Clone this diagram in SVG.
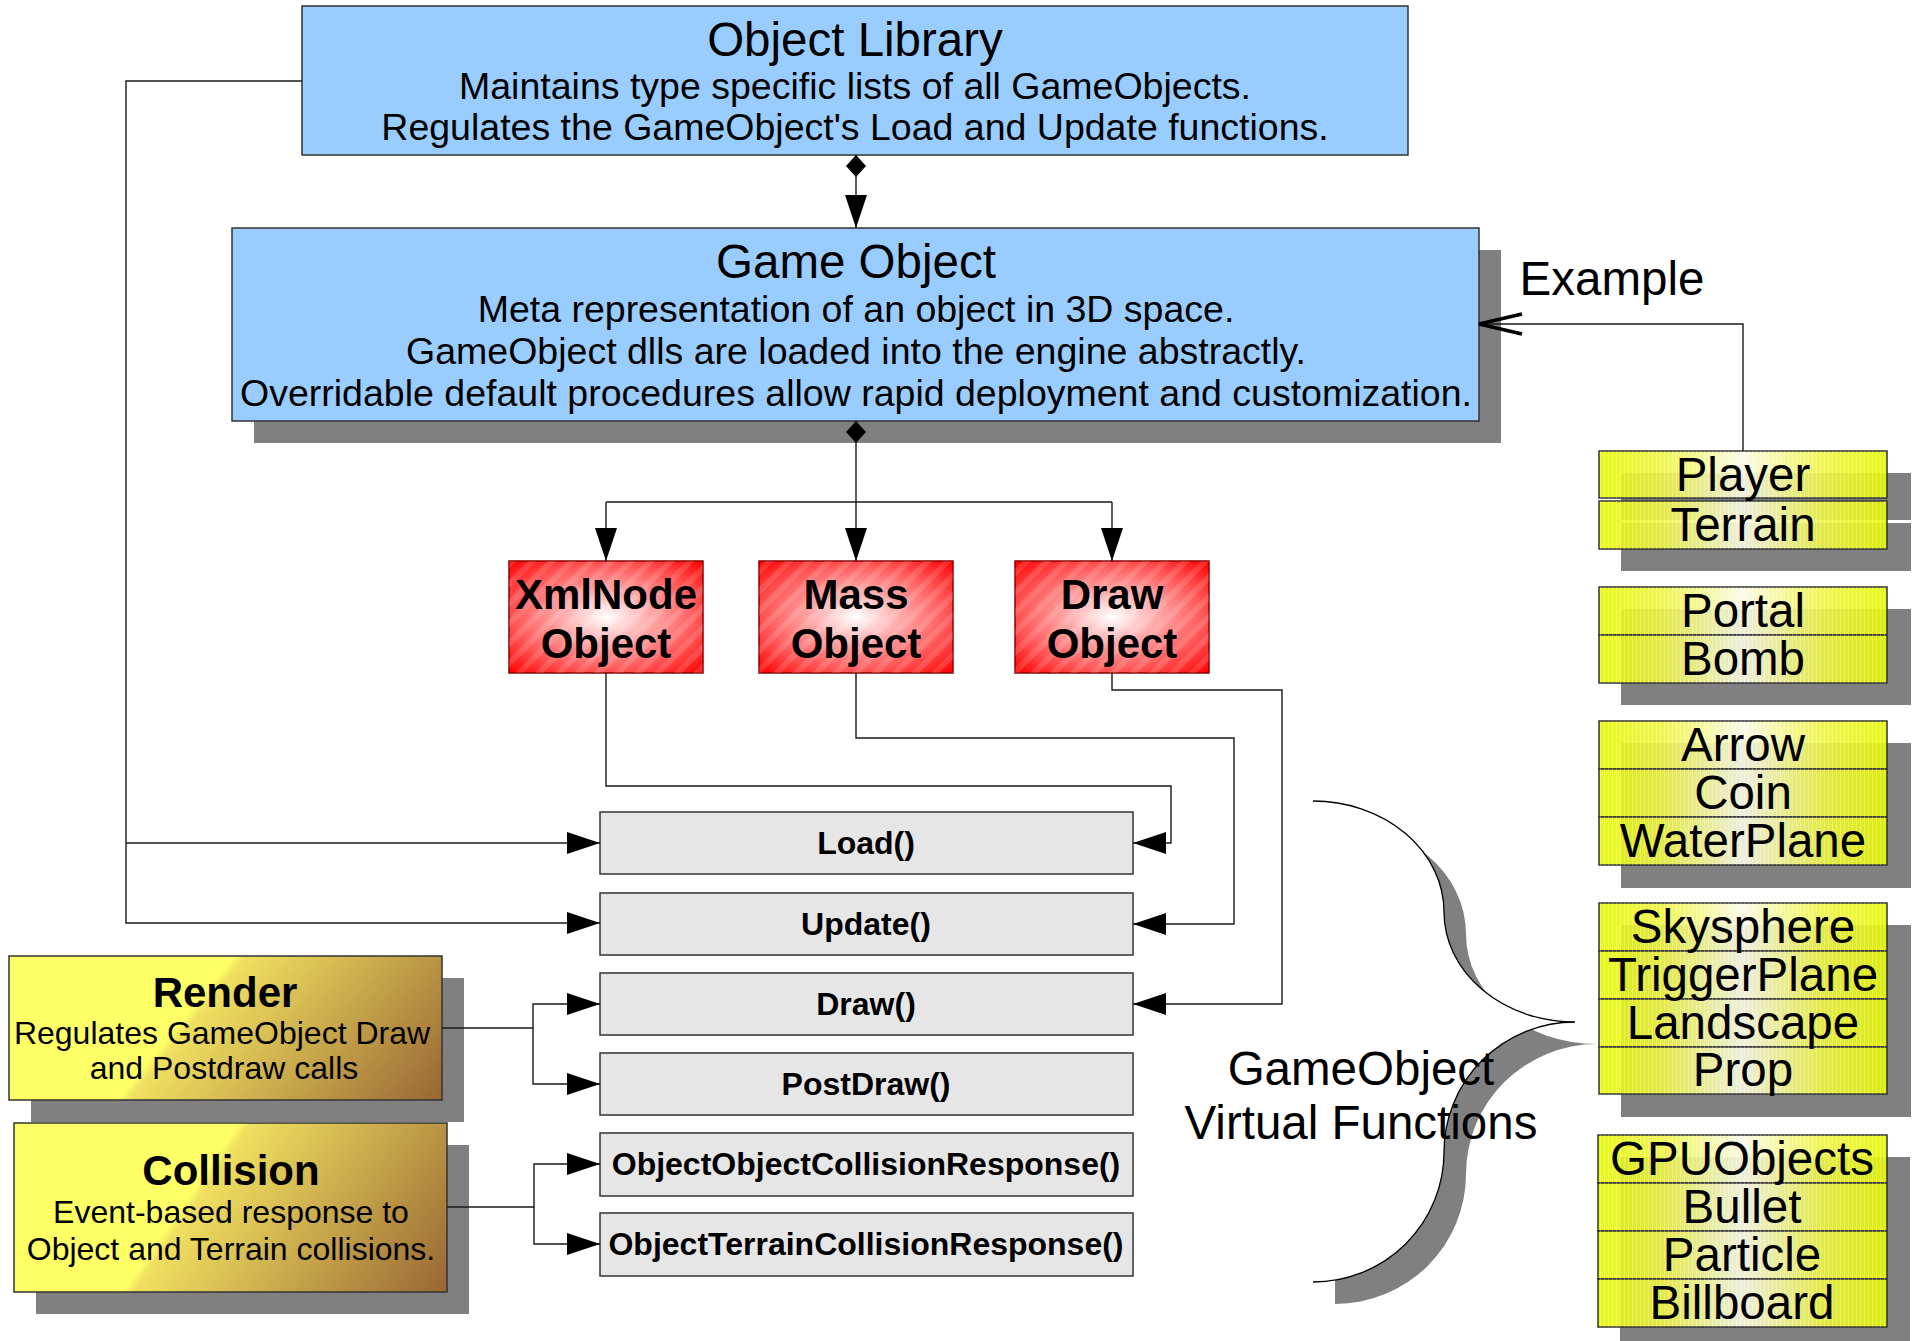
<svg xmlns="http://www.w3.org/2000/svg" width="1912" height="1341" viewBox="0 0 1912 1341">
  <style>
    .lbl { font-family: "Liberation Sans", Arial, sans-serif; fill: #000; text-anchor: middle; }
    .t47 { font-size: 47.5px; }
    .t37 { font-size: 37.5px; }
    .t32 { font-size: 32px; }
    .b42 { font-size: 42px; font-weight: bold; }
    .b31 { font-size: 32px; font-weight: bold; }
    .shadow { fill: #808080; }
    .wire { fill: none; stroke: #1a1a1a; stroke-width: 1.4; }
    .blue { fill: #99ccff; stroke: #333; stroke-width: 1.5; }
    .func { fill: #e6e6e6; stroke: #333; stroke-width: 1.5; }
    .red { fill: url(#redGrad); stroke: #8a0000; stroke-width: 1.5; }
    .redHatch { fill: url(#redHatch); }
    .cell { fill: url(#cellGrad); fill-opacity: 0.9; stroke: #333; stroke-width: 1.5; }
    .cellStripe { fill: url(#cellStripes); }
    .note { fill: url(#noteGrad); stroke: #333; stroke-width: 1.5; }
  </style>
  <defs>
    <radialGradient id="redGrad" cx="0.5" cy="0.5" r="0.7">
      <stop offset="0" stop-color="#ffffff"/>
      <stop offset="0.3" stop-color="#ffb0b0"/>
      <stop offset="0.7" stop-color="#ff5050"/>
      <stop offset="1" stop-color="#ff0000"/>
    </radialGradient>
    <pattern id="redHatch" width="14" height="14" patternUnits="userSpaceOnUse" patternTransform="rotate(45)">
      <rect x="0" y="0" width="6" height="14" fill="#ffffff" fill-opacity="0.13"/>
    </pattern>
    <linearGradient id="cellGrad" x1="0" y1="0" x2="1" y2="0">
      <stop offset="0" stop-color="#e6f800"/>
      <stop offset="0.22" stop-color="#eef540"/>
      <stop offset="0.5" stop-color="#fafae6"/>
      <stop offset="0.78" stop-color="#eef540"/>
      <stop offset="1" stop-color="#e6f800"/>
    </linearGradient>
    <pattern id="cellStripes" width="4" height="10" patternUnits="userSpaceOnUse">
      <rect x="0" y="0" width="1" height="10" fill="#ffffff" fill-opacity="0.25"/>
    </pattern>
    <linearGradient id="noteGrad" x1="0" y1="0" x2="1.183" y2="0.318">
      <stop offset="0" stop-color="#ffff66"/>
      <stop offset="0.41" stop-color="#ffff66"/>
      <stop offset="0.43" stop-color="#f0e060"/>
      <stop offset="1" stop-color="#996633"/>
    </linearGradient>
    <marker id="arrow" markerWidth="34" markerHeight="22" refX="33" refY="11" orient="auto" markerUnits="userSpaceOnUse" overflow="visible">
      <path d="M0,0 L33,11 L0,22 Z" fill="#000"/>
    </marker>
    <marker id="diamond" markerWidth="22" markerHeight="20" refX="0" refY="10" orient="auto" markerUnits="userSpaceOnUse" overflow="visible">
      <path d="M0,10 L11,0 L22,10 L11,20 Z" fill="#000"/>
    </marker>
    <marker id="openArrow" markerWidth="46" markerHeight="22" refX="44" refY="11" orient="auto" markerUnits="userSpaceOnUse" overflow="visible">
      <path d="M1,1 L44,11 L1,21" fill="none" stroke="#000" stroke-width="3.5"/>
    </marker>
  </defs>

  <rect width="1912" height="1341" fill="#ffffff"/>

  <!-- top-level library -->
  <g id="object-library">
    <rect class="blue" x="302" y="6" width="1106" height="149"/>
    <text class="lbl t47" x="855" y="56">Object Library</text>
    <text class="lbl t37" x="855" y="99">Maintains type specific lists of all GameObjects.</text>
    <text class="lbl t37" x="855" y="140">Regulates the GameObject's Load and Update functions.</text>
  </g>

  <!-- core object -->
  <g id="game-object">
    <rect class="shadow" x="254" y="250" width="1247" height="193"/>
    <rect class="blue" x="232" y="228" width="1247" height="193"/>
    <text class="lbl t47" x="856" y="278">Game Object</text>
    <text class="lbl t37" x="856" y="322">Meta representation of an object in 3D space.</text>
    <text class="lbl t37" x="856" y="364">GameObject dlls are loaded into the engine abstractly.</text>
    <text class="lbl t37" x="856" y="406">Overridable default procedures allow rapid deployment and customization.</text>
  </g>

  <!-- component objects -->
  <g id="xmlnode-object">
    <rect class="red" x="509" y="561" width="194" height="112"/>
    <rect class="redHatch" x="509" y="561" width="194" height="112"/>
    <text class="lbl b42" x="606" y="609">XmlNode</text>
    <text class="lbl b42" x="606" y="658">Object</text>
  </g>
  <g id="mass-object">
    <rect class="red" x="759" y="561" width="194" height="112"/>
    <rect class="redHatch" x="759" y="561" width="194" height="112"/>
    <text class="lbl b42" x="856" y="609">Mass</text>
    <text class="lbl b42" x="856" y="658">Object</text>
  </g>
  <g id="draw-object">
    <rect class="red" x="1015" y="561" width="194" height="112"/>
    <rect class="redHatch" x="1015" y="561" width="194" height="112"/>
    <text class="lbl b42" x="1112" y="609">Draw</text>
    <text class="lbl b42" x="1112" y="658">Object</text>
  </g>

  <!-- virtual functions -->
  <g id="fn-load">
    <rect class="func" x="600" y="812" width="533" height="62"/>
    <text class="lbl b31" x="866" y="854">Load()</text>
  </g>
  <g id="fn-update">
    <rect class="func" x="600" y="893" width="533" height="62"/>
    <text class="lbl b31" x="866" y="935">Update()</text>
  </g>
  <g id="fn-draw">
    <rect class="func" x="600" y="973" width="533" height="62"/>
    <text class="lbl b31" x="866" y="1015">Draw()</text>
  </g>
  <g id="fn-postdraw">
    <rect class="func" x="600" y="1053" width="533" height="62"/>
    <text class="lbl b31" x="866" y="1095">PostDraw()</text>
  </g>
  <g id="fn-object-collision">
    <rect class="func" x="600" y="1133" width="533" height="63"/>
    <text class="lbl b31" x="866" y="1175">ObjectObjectCollisionResponse()</text>
  </g>
  <g id="fn-terrain-collision">
    <rect class="func" x="600" y="1213" width="533" height="63"/>
    <text class="lbl b31" x="866" y="1255">ObjectTerrainCollisionResponse()</text>
  </g>

  <!-- engine systems -->
  <g id="render">
    <rect class="shadow" x="31" y="978" width="433" height="144"/>
    <rect class="note" x="9" y="956" width="433" height="144"/>
    <text class="lbl b42" x="225" y="1007">Render</text>
    <text class="lbl t32" x="222" y="1044">Regulates GameObject Draw</text>
    <text class="lbl t32" x="224" y="1079">and Postdraw calls</text>
  </g>
  <g id="collision">
    <rect class="shadow" x="36" y="1145" width="433" height="169"/>
    <rect class="note" x="14" y="1123" width="433" height="169"/>
    <text class="lbl b42" x="231" y="1185">Collision</text>
    <text class="lbl t32" x="231" y="1223">Event-based response to</text>
    <text class="lbl t32" x="231" y="1260">Object and Terrain collisions.</text>
  </g>

  <!-- brace grouping the virtual functions -->
  <g id="virtual-functions">
    <path class="shadow" transform="translate(22,22)" d="M1313 801 A131 111 0 0 1 1444 912 A131 110 0 0 0 1575 1022 A131 130 0 0 0 1444 1152 A131 130 0 0 1 1313 1282 Z"/>
    <path fill="#ffffff" d="M1313 801 A131 111 0 0 1 1444 912 A131 110 0 0 0 1575 1022 A131 130 0 0 0 1444 1152 A131 130 0 0 1 1313 1282 Z"/>
    <path fill="none" stroke="#000" stroke-width="1.3" d="M1313 801 A131 111 0 0 1 1444 912 A131 110 0 0 0 1575 1022 A131 130 0 0 0 1444 1152 A131 130 0 0 1 1313 1282"/>
    <text class="lbl t47" x="1361" y="1085">GameObject</text>
    <text class="lbl t47" x="1361" y="1139">Virtual Functions</text>
  </g>

  <!-- example implementations -->
  <g id="example-label">
    <text class="lbl t47" x="1612" y="295">Example</text>
  </g>
  <g id="group-player-terrain">
    <rect class="shadow" x="1621" y="473" width="290" height="47"/>
    <rect class="shadow" x="1621" y="523" width="290" height="48"/>
    <rect class="cell" x="1599" y="451" width="288" height="47"/>
    <rect class="cellStripe" x="1599" y="451" width="288" height="47"/>
    <rect class="cell" x="1599" y="501" width="288" height="48"/>
    <rect class="cellStripe" x="1599" y="501" width="288" height="48"/>
    <text class="lbl t47" x="1743" y="491">Player</text>
    <text class="lbl t47" x="1743" y="541">Terrain</text>
  </g>
  <g id="group-portal-bomb">
    <rect class="shadow" x="1621" y="609" width="290" height="96"/>
    <rect class="cell" x="1599" y="587" width="288" height="48"/>
    <rect class="cell" x="1599" y="635" width="288" height="48"/>
    <rect class="cellStripe" x="1599" y="587" width="288" height="96"/>
    <text class="lbl t47" x="1743" y="627">Portal</text>
    <text class="lbl t47" x="1743" y="675">Bomb</text>
  </g>
  <g id="group-arrow-coin-waterplane">
    <rect class="shadow" x="1621" y="743" width="290" height="145"/>
    <rect class="cell" x="1599" y="721" width="288" height="48"/>
    <rect class="cell" x="1599" y="769" width="288" height="48"/>
    <rect class="cell" x="1599" y="817" width="288" height="48"/>
    <rect class="cellStripe" x="1599" y="721" width="288" height="144"/>
    <text class="lbl t47" x="1743" y="761">Arrow</text>
    <text class="lbl t47" x="1743" y="809">Coin</text>
    <text class="lbl t47" x="1743" y="857">WaterPlane</text>
  </g>
  <g id="group-skysphere-prop">
    <rect class="shadow" x="1621" y="925" width="290" height="192"/>
    <rect class="cell" x="1599" y="903" width="288" height="48"/>
    <rect class="cell" x="1599" y="951" width="288" height="48"/>
    <rect class="cell" x="1599" y="999" width="288" height="48"/>
    <rect class="cell" x="1599" y="1047" width="288" height="47"/>
    <rect class="cellStripe" x="1599" y="903" width="288" height="191"/>
    <text class="lbl t47" x="1743" y="943">Skysphere</text>
    <text class="lbl t47" x="1743" y="991">TriggerPlane</text>
    <text class="lbl t47" x="1743" y="1039">Landscape</text>
    <text class="lbl t47" x="1743" y="1086">Prop</text>
  </g>
  <g id="group-gpuobjects">
    <rect class="shadow" x="1620" y="1157" width="290" height="192"/>
    <rect class="cell" x="1598" y="1135" width="289" height="48"/>
    <rect class="cell" x="1598" y="1183" width="289" height="48"/>
    <rect class="cell" x="1598" y="1231" width="289" height="48"/>
    <rect class="cell" x="1598" y="1279" width="289" height="48"/>
    <rect class="cellStripe" x="1598" y="1135" width="289" height="192"/>
    <text class="lbl t47" x="1742" y="1175">GPUObjects</text>
    <text class="lbl t47" x="1742" y="1223">Bullet</text>
    <text class="lbl t47" x="1742" y="1271">Particle</text>
    <text class="lbl t47" x="1742" y="1319">Billboard</text>
  </g>

  <!-- connectors -->
  <g id="connectors">
    <path class="wire" d="M856 155 V228" marker-start="url(#diamond)" marker-end="url(#arrow)"/>
    <path class="wire" d="M856 421 V502" marker-start="url(#diamond)"/>
    <path class="wire" d="M606 502 H1112"/>
    <path class="wire" d="M606 502 V561" marker-end="url(#arrow)"/>
    <path class="wire" d="M856 502 V561" marker-end="url(#arrow)"/>
    <path class="wire" d="M1112 502 V561" marker-end="url(#arrow)"/>

    <path class="wire" d="M302 81 H126 V923 H600" marker-end="url(#arrow)"/>
    <path class="wire" d="M126 843 H600" marker-end="url(#arrow)"/>

    <path class="wire" d="M606 673 V786 H1171 V843 H1133" marker-end="url(#arrow)"/>
    <path class="wire" d="M856 673 V738 H1234 V924 H1133" marker-end="url(#arrow)"/>
    <path class="wire" d="M1112 673 V690 H1282 V1004 H1133" marker-end="url(#arrow)"/>

    <path class="wire" d="M442 1028 H533 V1004 H600" marker-end="url(#arrow)"/>
    <path class="wire" d="M533 1028 V1084 H600" marker-end="url(#arrow)"/>
    <path class="wire" d="M447 1207 H534 V1164 H600" marker-end="url(#arrow)"/>
    <path class="wire" d="M534 1207 V1244 H600" marker-end="url(#arrow)"/>

    <path class="wire" d="M1743 451 V324 H1479" marker-end="url(#openArrow)"/>
  </g>
</svg>
